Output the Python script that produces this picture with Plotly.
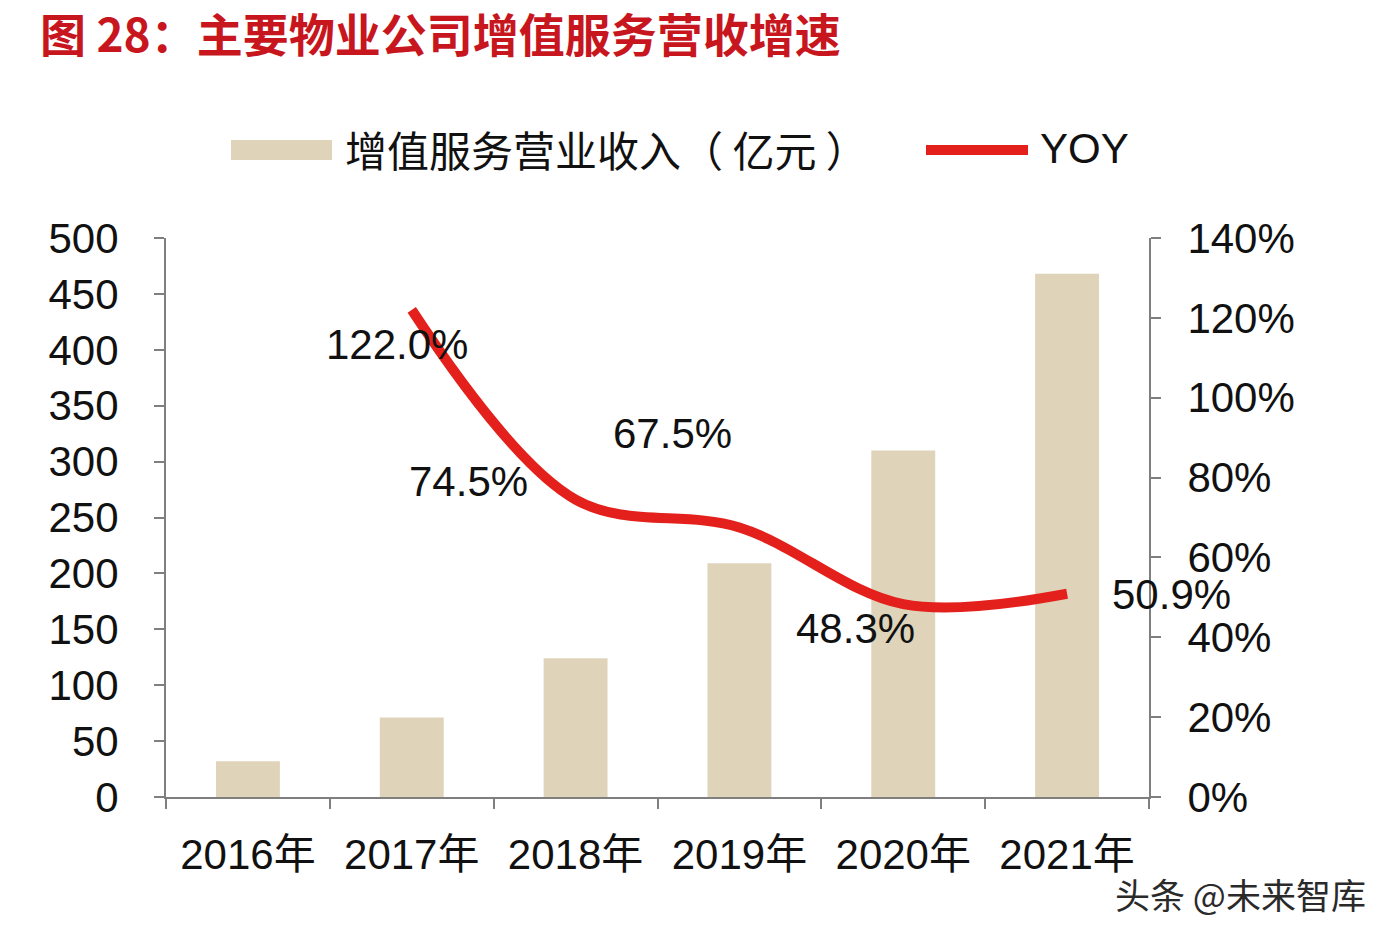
import plotly.graph_objects as go

years = ["2016年", "2017年", "2018年", "2019年", "2020年", "2021年"]
revenue = [32, 71, 124, 209, 310, 468]
yoy_years = ["2017年", "2018年", "2019年", "2020年", "2021年"]
yoy = [122.0, 74.5, 67.5, 48.3, 50.9]
yoy_labels = ["122.0%", "74.5%", "67.5%", "48.3%", "50.9%"]
label_shift = [(-15, -35), (-107, 18), (-67, 94), (-48, -24), (104, -1)]

bar_color = "#DFD3BA"
line_color = "#E3201B"
axis_color = "#7F7F7F"
font_main = "Liberation Sans, Arial, Noto Sans CJK SC"

OFF = 8  # page body margin offset
W, H = 1398 - 2 * OFF, 938 - 2 * OFF
L, R, T, B = 166 - OFF, 1149 - OFF, 238 - OFF, 797 - OFF

def px(xp):
    return (xp - OFF - L) / (R - L)
def py(yp):
    return (B - (yp - OFF)) / (B - T)

fig = go.Figure()
fig.add_trace(go.Bar(x=years, y=revenue, marker=dict(color=bar_color, line=dict(width=0)),
                     name="增值服务营业收入（亿元）", showlegend=False))
fig.add_trace(go.Scatter(x=yoy_years, y=yoy, yaxis="y2", mode="lines",
                         line=dict(color=line_color, width=10, shape="spline", smoothing=1.0),
                         name="YOY", showlegend=False))

annotations = []
for xv, yv, t, (dx, dy) in zip(yoy_years, yoy, yoy_labels, label_shift):
    annotations.append(dict(x=xv, y=yv, xref="x", yref="y2", text=t, showarrow=False,
                            xshift=dx, yshift=dy, font=dict(size=42, color="#111111", family=font_main)))

# manual legend
shapes = [
    dict(type="rect", xref="paper", yref="paper", x0=px(231), x1=px(332), y0=py(160), y1=py(140),
         fillcolor=bar_color, line=dict(width=0)),
    dict(type="line", xref="paper", yref="paper", x0=px(926), x1=px(1028), y0=py(150), y1=py(150),
         line=dict(color=line_color, width=10)),
]
annotations.append(dict(x=px(343), y=py(149), xref="paper", yref="paper", xanchor="left", yanchor="middle",
                        text="增值服务营业收入（ 亿元 ）", showarrow=False,
                        font=dict(size=42, color="#111111", family="Noto Sans CJK SC")))
annotations.append(dict(x=px(1038), y=py(149), xref="paper", yref="paper", xanchor="left", yanchor="middle",
                        text="YOY", showarrow=False,
                        font=dict(size=42, color="#111111", family=font_main)))
# title
annotations.append(dict(x=px(38), y=py(32), xref="paper", yref="paper", xanchor="left", yanchor="middle",
                        text="<b>图 28：主要物业公司增值服务营收增速</b>", showarrow=False,
                        font=dict(size=46, color="#C8161E", family="Noto Sans CJK SC")))
# watermark
annotations.append(dict(x=px(1113), y=py(893), xref="paper", yref="paper", xanchor="left", yanchor="middle",
                        text="头条 @未来智库", showarrow=False,
                        font=dict(size=35, color="#2a2a2a", family="Noto Sans CJK SC")))

fig.update_layout(
    width=W, height=H,
    margin=dict(l=L, r=W - R, t=T, b=H - B, autoexpand=False),
    plot_bgcolor="white", paper_bgcolor="white",
    bargap=0.61,
    xaxis=dict(type="category", range=[-0.5, 5.5], autorange=False, showline=True,
               linecolor=axis_color, linewidth=2,
               ticks="outside", ticklen=10, tickcolor=axis_color, tickwidth=2,
               tickson="boundaries", showgrid=False,
               tickfont=dict(size=42, color="#111111", family=font_main), ticklabelstandoff=20),
    yaxis=dict(range=[0, 500], autorange=False, dtick=50, showline=True, linecolor=axis_color, linewidth=2,
               ticks="outside", ticklen=10, tickcolor=axis_color, tickwidth=2, showgrid=False,
               zeroline=False,
               tickfont=dict(size=42, color="#111111", family=font_main), ticklabelstandoff=27),
    yaxis2=dict(range=[0, 140], autorange=False, dtick=20, overlaying="y", side="right", showline=True,
                linecolor=axis_color, linewidth=2, ticks="outside", ticklen=10, tickcolor=axis_color,
                tickwidth=2, showgrid=False, zeroline=False, ticksuffix="%",
                tickfont=dict(size=42, color="#111111", family=font_main), ticklabelstandoff=18),
    shapes=shapes,
    annotations=annotations,
)

fig.write_html("out.html")
